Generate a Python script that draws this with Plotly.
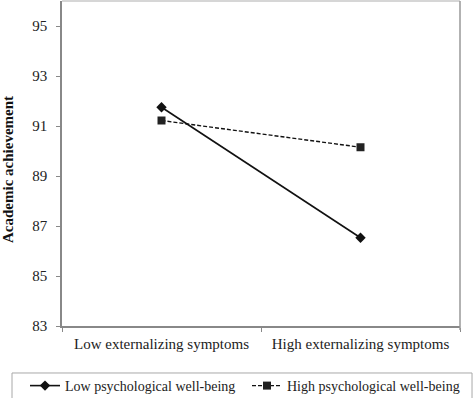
import plotly.graph_objects as go

categories = ["Low externalizing symptoms", "High externalizing symptoms"]
low_wb = [91.75, 86.53]
high_wb = [91.22, 90.15]
series_names = ["Low psychological well-being", "High psychological well-being"]
y_ticks = [83, 85, 87, 89, 91, 93, 95]
y_title = "Academic achievement"

FONT = "Liberation Serif, Times New Roman, serif"

fig = go.Figure()
fig.add_trace(go.Scatter(
    x=categories, y=low_wb, name=series_names[0], mode="lines+markers",
    line=dict(color="#111111", width=1.6),
    marker=dict(symbol="diamond", size=8, color="#111111"),
    legend="legend",
))
fig.add_trace(go.Scatter(
    x=categories, y=high_wb, name=series_names[1], mode="lines+markers",
    line=dict(color="#111111", width=1.4, dash="4px,2px"),
    marker=dict(symbol="square", size=8, color="#222222"),
    legend="legend2",
))

# frame lines (top light, right gray) and legend box
fig.add_shape(type="line", xref="paper", yref="paper", x0=0, x1=1, y0=1, y1=1,
              line=dict(color="#d6d6d6", width=2))
fig.add_shape(type="line", xref="paper", yref="paper", x0=1, x1=1, y0=-0.012, y1=1,
              line=dict(color="#999999", width=1.5))
fig.add_shape(type="rect", xref="paper", yref="paper", x0=-0.1256, x1=1.0302,
              y0=-0.1446, y1=-0.4, line=dict(color="#a8a8a8", width=1),
              fillcolor="rgba(0,0,0,0)")

# y-axis title as rotated annotation (placed slightly below plot centre as in reference)
fig.add_annotation(text="<b>" + y_title + "</b>", textangle=-90, showarrow=False,
                   xref="paper", yref="paper", x=(8 - 62) / 398, y=(326 - 170) / 325,
                   xanchor="center", yanchor="middle",
                   font=dict(size=15, family=FONT, color="#111111"))

leg_common = dict(orientation="h", xref="container", yref="container",
                  xanchor="left", yanchor="middle", y=(398 - 386) / 398,
                  font=dict(size=14, family=FONT, color="#222222"),
                  bgcolor="rgba(0,0,0,0)", borderwidth=0)

fig.update_layout(
    width=474, height=398,
    margin=dict(l=62, r=14, t=1, b=72),
    paper_bgcolor="white", plot_bgcolor="white",
    font=dict(family=FONT, size=15, color="#222222"),
    showlegend=True,
    legend=dict(x=25 / 474, **leg_common),
    legend2=dict(x=247 / 474, **leg_common),
    xaxis=dict(
        type="category", range=[-0.5, 1.5], showline=True, linecolor="#888888",
        linewidth=1.5, ticks="outside", ticklen=4, tickcolor="#888888",
        tickson="boundaries", showgrid=False, zeroline=False, automargin=False,
        ticklabelstandoff=3,
        tickfont=dict(size=15, family=FONT, color="#222222"),
    ),
    yaxis=dict(
        range=[83, 96], tickvals=y_ticks, showline=True, linecolor="#888888",
        linewidth=1.5, ticks="outside", ticklen=4, tickcolor="#888888",
        showgrid=False, zeroline=False, ticklabelstandoff=6, automargin=False,
        tickfont=dict(size=15, family=FONT, color="#222222"),
    ),
)

fig.write_html("out.html", config={"displayModeBar": False},
               post_script="document.body.style.margin='0';document.body.style.overflow='hidden';")
